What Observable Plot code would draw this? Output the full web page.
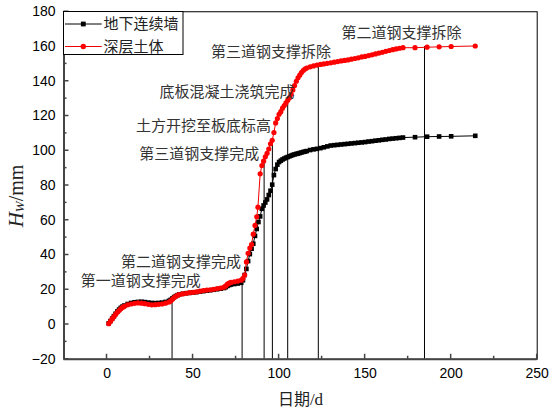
<!DOCTYPE html>
<html><head><meta charset="utf-8">
<script src="https://cdn.jsdelivr.net/npm/d3@7"></script>
<script src="https://cdn.jsdelivr.net/npm/@observablehq/plot@0.6"></script>
<style>
html,body{margin:0;padding:0;background:#fff}
#chart{position:relative;width:552px;height:409px}
</style>
</head><body><div id="chart"></div>
<script>
// 地下连续墙 (black squares)
const wallDays = [
  1,2,3,4,5,6,7,8,9,10,
  12,14,16,18,20,22,24,26,28,30,
  32,34,36,37,38,39,40,41,42,44,
  46,48,50,52,54,56,58,60,62,64,
  66,68,69,70,71,72,74,76,78,79,
  80,81,82,83,84,85,86,87,88,89,
  90,91,92,93,94,95,96,97,98,99,
  100,101,102,103,104,105,106,107,108,109,
  110,111,112,113,114,115,116,118,120,122,
  124,126,128,130,132,134,136,138,140,142,
  144,146,148,150,152,154,156,158,160,162,
  164,166,168,170,172,179,186,193,200,214
];
const wallValues = [
  0.7,2.0,3.4,4.8,6.2,7.5,8.6,9.6,10.3,10.9,
  11.8,12.4,12.8,13.0,13.1,12.9,12.6,12.4,12.3,12.4,
  12.6,13.0,13.6,14.2,15.0,15.8,16.4,16.9,17.3,17.7,
  18.0,18.2,18.4,18.6,18.9,19.2,19.5,19.7,20.0,20.3,
  20.6,21.0,21.5,22.2,22.7,23.0,23.3,23.6,24.0,25.5,
  28.5,32,36.5,40.5,43.6,46.5,51,55,59,62.2,
  66.6,68.5,70.2,72,74.5,77,80.5,86,89.5,92,
  93.5,94.3,95,95.5,96,96.4,96.8,97.2,97.6,97.9,
  98.2,98.4,98.7,99,99.3,99.5,99.8,100.4,100.8,101.1,
  101.5,102,102.5,103,103.2,103.4,103.6,103.8,104,104.2,
  104.4,104.6,104.8,105,105.3,105.5,105.8,106,106.3,106.5,
  106.8,107,107.2,107.4,107.6,107.8,108.1,108.2,108.3,108.6
];
// 深层土体 (red circles)
const soilDays = [
  1,2,3,4,5,6,7,8,9,10,
  12,14,16,18,20,22,24,26,28,30,
  32,34,36,37,38,39,40,41,42,44,
  46,48,50,52,54,56,58,60,62,64,
  66,68,69,70,71,72,74,76,78,79,
  80,81,82,83,84,85,86,87,87.7,89,
  90,91,92,93,94,95,96,97,98,99,
  100,101,102,103,104,105,106,107,108,109,
  110,111,112,113,114,115,116,118,120,122,
  124,126,128,130,132,134,136,138,140,142,
  144,146,148,150,152,154,156,158,160,162,
  164,166,168,170,172,179,186,193,200,214
];
const soilValues = [
  0.5,1.8,3.2,4.5,5.8,7.0,8.0,9.0,9.8,10.4,
  11.3,11.8,12.2,12.4,12.3,12.0,11.6,11.3,11.4,11.6,
  11.8,12.3,12.9,13.5,14.5,15.5,16.2,16.8,17.2,17.6,
  18.0,18.3,18.5,18.8,19.2,19.5,19.8,20.0,20.3,20.7,
  21.0,21.5,22.2,23.2,23.8,24.2,24.6,25.0,25.5,26.5,
  28.5,36,41,44,46,52,57,62,67.5,86.7,
  91.5,94,96.5,98.5,101,104,106,110.5,116,118.5,
  121,122.5,124.5,126,127.5,129,130.5,132.5,135,137.5,
  140,142,143.5,145,146.2,147,147.6,148.3,148.8,149.3,
  149.7,150,150.3,150.6,151,151.3,151.7,152,152.3,152.7,
  153.1,153.5,154,154.3,154.8,155.2,155.7,156.2,156.7,157.2,
  157.7,158.2,158.6,159,159.3,159.3,159.6,159.8,160,160.3
];
// construction events (vertical lines)
const eventDays = [37.8, 78.5, 91.3, 96.1, 105, 122.8, 184.5];
const eventTops = [13.5, 25.5, 93, 106, 129, 148.5, 160];
// annotations
const noteTexts = ["第一道钢支撑完成","第二道钢支撑完成","第三道钢支撑完成","土方开挖至板底标高","底板混凝土浇筑完成","第三道钢支撑拆除","第二道钢支撑拆除"];
const noteEndX = [54.5, 77.8, 88.5, 95.3, 108.9, 130.2, 206];
const noteY = [24.7, 35.9, 98.2, 114, 133.7, 156.7, 167.5];
// axes
const xDomain = [-25, 250];
const yDomain = [-20, 180];
const xTicks = [0, 50, 100, 150, 200, 250];
const xMinor = [25, 75, 125, 175, 225];
const yTicks = [-20, 0, 20, 40, 60, 80, 100, 120, 140, 160, 180];
const yMinor = [-10, 10, 30, 50, 70, 90, 110, 130, 150, 170];
const seriesNames = ["地下连续墙", "深层土体"];

const wall = wallDays.map((d, i) => ({day: d, value: wallValues[i]}));
const soil = soilDays.map((d, i) => ({day: d, value: soilValues[i]}));
const events = eventDays.map((d, i) => ({day: d, top: eventTops[i]}));
const notes = noteTexts.map((t, i) => ({text: t, x: noteEndX[i], y: noteY[i]}));

const cjk = "'Noto Sans CJK SC', sans-serif";
const plot = Plot.plot({
  width: 552, height: 409,
  marginLeft: 63.5, marginRight: 15.3, marginTop: 11.25, marginBottom: 50.25,
  x: {domain: xDomain},
  y: {domain: yDomain},
  style: {fontFamily: "'Liberation Sans', Arial, sans-serif", fontSize: "14px", color: "#000", background: "#fff"},
  marks: [
    Plot.ruleX(events, {x: "day", y1: yDomain[0], y2: "top", stroke: "#000", strokeWidth: 1}),
    Plot.line(wall, {x: "day", y: "value", stroke: "#000", strokeWidth: 1}),
    Plot.dot(wall, {x: "day", y: "value", symbol: "square", r: 2.6, fill: "#000", stroke: "none"}),
    Plot.line(soil, {x: "day", y: "value", stroke: "#e00", strokeWidth: 1}),
    Plot.dot(soil, {x: "day", y: "value", r: 2.6, fill: "#f00", stroke: "none"}),
    Plot.text(notes, {x: "x", y: "y", text: "text", textAnchor: "end", fontFamily: cjk, fontSize: 15, fill: "#333"}),
    Plot.axisX(xTicks, {tickSize: 0, tickPadding: 8.5, label: null, fontSize: 14}),
    Plot.axisY(yTicks, {tickSize: 0, tickPadding: 8.5, label: null, fontSize: 14}),
    Plot.frame({stroke: "#000", strokeWidth: 1}),
    Plot.ruleX([xDomain[0]], {stroke: "#444", strokeWidth: 2}),
    Plot.ruleY([yDomain[0]], {stroke: "#444", strokeWidth: 2})
  ]
});
document.getElementById("chart").appendChild(plot);

const svg = d3.select(plot);
const sx = plot.scale("x"), sy = plot.scale("y");
const X = v => sx.apply(v), Y = v => sy.apply(v);
// inward ticks
const tg = svg.append("g").attr("stroke", "#444").attr("stroke-width", 1.5);
const yb = Y(yDomain[0]), xl0 = X(xDomain[0]);
xTicks.forEach(v => tg.append("line").attr("x1", X(v)).attr("x2", X(v)).attr("y1", yb).attr("y2", yb - 5));
xMinor.forEach(v => tg.append("line").attr("x1", X(v)).attr("x2", X(v)).attr("y1", yb).attr("y2", yb - 3));
yTicks.forEach(v => tg.append("line").attr("y1", Y(v)).attr("y2", Y(v)).attr("x1", xl0).attr("x2", xl0 + 5));
yMinor.forEach(v => tg.append("line").attr("y1", Y(v)).attr("y2", Y(v)).attr("x1", xl0).attr("x2", xl0 + 3));
// legend
const lg = svg.append("g").attr("text-anchor", "start");
lg.append("rect").attr("x", 63.5).attr("y", 11.5).attr("width", 119.5).attr("height", 43)
  .attr("fill", "#fff").attr("stroke", "#000").attr("stroke-width", 1);
const rows = [{y: 24, color: "#000", sym: "square"}, {y: 46.5, color: "#f00", sym: "circle"}];
rows.forEach((r, i) => {
  lg.append("line").attr("x1", 65).attr("x2", 101.7).attr("y1", r.y).attr("y2", r.y)
    .attr("stroke", i ? "#e00" : "#000").attr("stroke-width", 1);
  if (r.sym === "square") lg.append("rect").attr("x", 83.3 - 2.4).attr("y", r.y - 2.4).attr("width", 4.8).attr("height", 4.8).attr("fill", r.color);
  else lg.append("circle").attr("cx", 83.3).attr("cy", r.y).attr("r", 2.7).attr("fill", r.color);
  lg.append("text").attr("x", 103.5).attr("y", r.y).attr("dy", "0.36em").attr("text-anchor", "start")
    .attr("font-family", cjk).attr("font-size", 15).attr("fill", "#222").text(seriesNames[i]);
});
// y label
const yl = svg.append("text").attr("transform", "translate(23,196) rotate(-90)")
  .attr("text-anchor", "middle").attr("font-family", "'Liberation Serif', 'Times New Roman', serif").attr("fill", "#222");
yl.append("tspan").attr("font-style", "italic").attr("font-size", 21).text("H");
yl.append("tspan").attr("font-style", "italic").attr("font-size", 13).attr("dy", 1).text("W");
yl.append("tspan").attr("font-size", 20).attr("dy", -1).text("/mm");
// x label
const xl = svg.append("text").attr("x", 300.5).attr("y", 405).attr("text-anchor", "middle").attr("fill", "#222");
xl.append("tspan").attr("font-family", cjk).attr("font-size", 16).text("日期");
xl.append("tspan").attr("font-family", "'Liberation Serif', serif").attr("font-size", 17).text("/d");
</script>
</body></html>
